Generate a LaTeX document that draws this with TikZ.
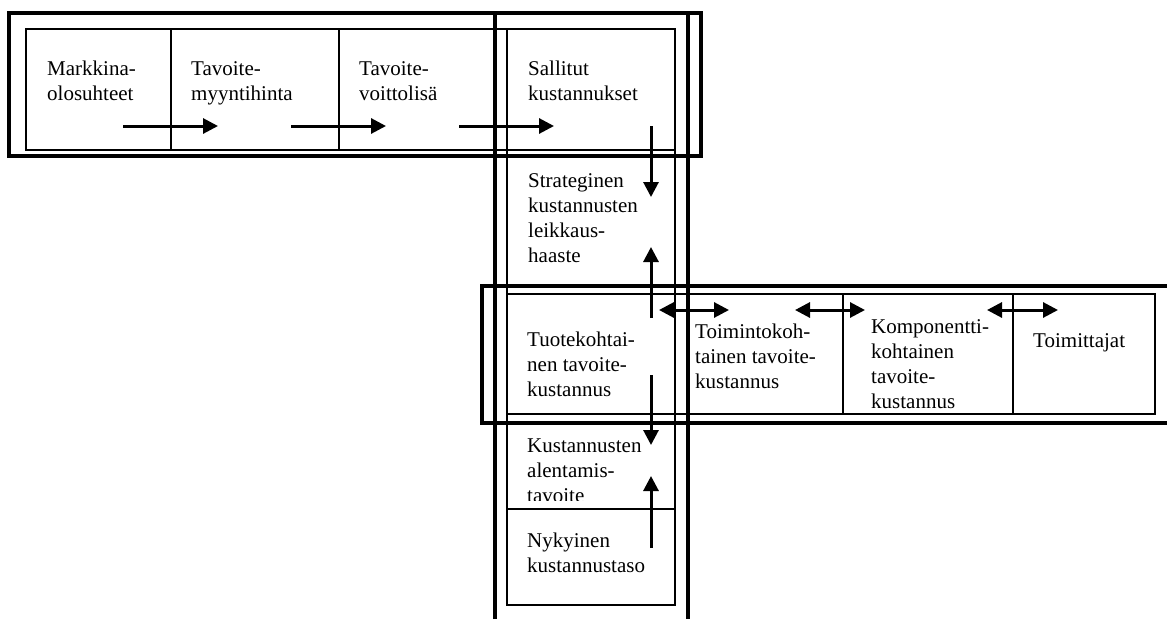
\documentclass[tikz,border=0pt]{standalone}
\usepackage{fontspec}
\setmainfont{Liberation Serif}
\usetikzlibrary{arrows.meta}
\begin{document}
\begin{tikzpicture}[x=1pt,y=-1pt,
  thickframe/.style={line width=3.2pt},
  thinline/.style={line width=2pt},
  arr/.style={line width=3pt,-{Triangle[length=15pt,width=15pt]}},
  darr/.style={line width=3pt,{Triangle[length=15pt,width=15pt]}-{Triangle[length=15pt,width=15pt]}},
  lbl/.style={anchor=base west,inner sep=0pt,align=left,font=\fontsize{21}{25}\selectfont}]
\useasboundingbox (0,0) rectangle (1167,619);
% thick frames
\draw[thickframe] (9,13) rectangle (701,156);
\draw[thickframe] (495,619) -- (495,13) -- (688,13) -- (688,619);
\draw[thickframe] (1168,286) -- (482,286) -- (482,423) -- (1168,423);
% thin boxes
\draw[thinline] (26,29) rectangle (675,150);
\draw[thinline] (171,29) -- (171,150);
\draw[thinline] (339,29) -- (339,150);
\draw[thinline] (507,29) rectangle (675,605);
\draw[thinline] (507,294) rectangle (1155,414);
\draw[thinline] (843,294) -- (843,414);
\draw[thinline] (1013,294) -- (1013,414);
\draw[thinline] (507,509) -- (675,509);
% labels (anchored at the baseline of the last line)
\node[lbl] (markkina) at (47,100) {Markkina-\\olosuhteet};
\node[lbl] (myynti) at (191,100) {Tavoite-\\myyntihinta};
\node[lbl] (voitto) at (359,100) {Tavoite-\\voittolisä};
\node[lbl] (sallitut) at (528,100) {Sallitut\\kustannukset};
\node[lbl] (strat) at (528,262) {Strateginen\\kustannusten\\leikkaus-\\haaste};
\node[lbl] (tuote) at (527,396) {Tuotekohtai-\\nen tavoite-\\kustannus};
\node[lbl] (toiminto) at (695,388) {Toimintokoh-\\tainen tavoite-\\kustannus};
\node[lbl] (komp) at (871,408) {Komponentti-\\kohtainen\\tavoite-\\kustannus};
\node[lbl] (toimittajat) at (1033,347) {Toimittajat};
\begin{scope}
\clip (507,416) rectangle (675,500);
\node[lbl] (alent) at (527,502) {Kustannusten\\alentamis-\\tavoite};
\end{scope}
\node[lbl] (nyky) at (527,572) {Nykyinen\\kustannustaso};
% arrow end points
\coordinate (a1s) at (123,126); \coordinate (a1e) at (218,126);
\coordinate (a2s) at (291,126); \coordinate (a2e) at (386,126);
\coordinate (a3s) at (459,126); \coordinate (a3e) at (554,126);
\coordinate (d1s) at (651,126); \coordinate (d1e) at (651,197);
\coordinate (u1s) at (651,318); \coordinate (u1e) at (651,247);
\coordinate (h1s) at (659,310); \coordinate (h1e) at (729,310);
\coordinate (h2s) at (795,310); \coordinate (h2e) at (865,310);
\coordinate (h3s) at (987,310); \coordinate (h3e) at (1058,310);
\coordinate (d2s) at (651,375); \coordinate (d2e) at (651,445);
\coordinate (u2s) at (651,548); \coordinate (u2e) at (651,476);
% arrows
\draw[arr] (a1s) -- (a1e);
\draw[arr] (a2s) -- (a2e);
\draw[arr] (a3s) -- (a3e);
\draw[arr] (d1s) -- (d1e);
\draw[arr] (u1s) -- (u1e);
\draw[darr] (h1s) -- (h1e);
\draw[darr] (h2s) -- (h2e);
\draw[darr] (h3s) -- (h3e);
\draw[arr] (d2s) -- (d2e);
\draw[arr] (u2s) -- (u2e);
\end{tikzpicture}
\end{document}
